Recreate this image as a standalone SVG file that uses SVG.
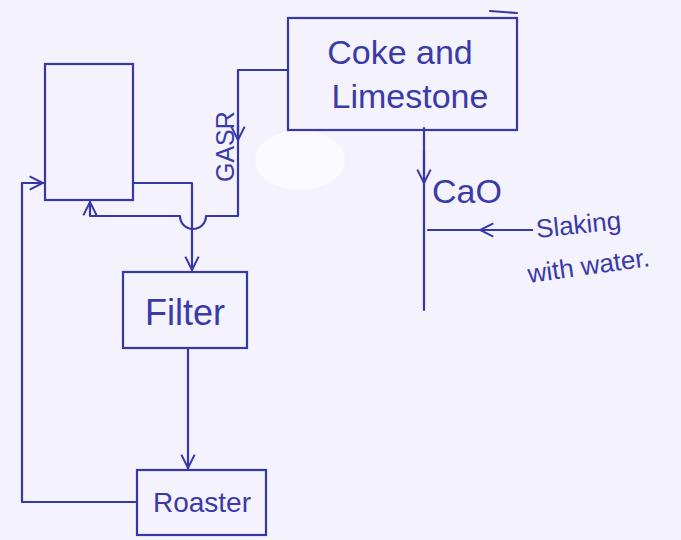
<svg xmlns="http://www.w3.org/2000/svg" width="681" height="540" viewBox="0 0 681 540">
<defs>
<style>
.ln{fill:none;stroke:#3737a8;stroke-width:2.2;stroke-linecap:round;stroke-linejoin:round}
.bx{fill:none;stroke:#3737a8;stroke-width:2.2}
.t{font-family:"Liberation Sans","DejaVu Sans",sans-serif;fill:#3a3aa8}
</style>
<marker id="ah" viewBox="0 0 12 12" refX="11" refY="6" markerWidth="16" markerHeight="16" markerUnits="userSpaceOnUse" orient="auto">
<path d="M1,1 L11,6 L1,11" fill="none" stroke="#3737a8" stroke-width="1.5"/>
</marker>
</defs>
<rect width="681" height="540" fill="#f4f2fc"/>
<ellipse cx="300" cy="160" rx="45" ry="30" fill="#ffffff" opacity="0.5"/>
<g id="connectors">
<path class="ln" d="M288,70 L238,70 L238,216 L206,216 A12,12 0 0 1 180,216 L90,216 L90,202" marker-end="url(#ah)"/>
<path class="ln" d="M238,120 L238,140" marker-end="url(#ah)"/>
<path class="ln" d="M133,183 L192,183 L192,270" marker-end="url(#ah)"/>
<path class="ln" d="M188,348 L188,468" marker-end="url(#ah)"/>
<path class="ln" d="M137,502 L22,502 L22,183 L43,183" marker-end="url(#ah)"/>
<path class="ln" d="M424,128 L424,310"/>
<path class="ln" d="M424,150 L424,183" marker-end="url(#ah)"/>
<path class="ln" d="M532,230 L428,230"/>
<path class="ln" d="M532,230 L480,230" marker-end="url(#ah)"/>
<path class="ln" d="M490,11 L517,13"/>
</g>
<g id="reactor">
<rect class="bx" x="45" y="64" width="88" height="136"/>
</g>
<g id="coke">
<rect class="bx" x="288" y="18" width="229" height="112"/>
<text class="t" x="400" y="64" font-size="34" text-anchor="middle">Coke and</text>
<text class="t" x="410" y="108" font-size="34" text-anchor="middle">Limestone</text>
</g>
<g id="filter">
<rect class="bx" x="123" y="272" width="124" height="76"/>
<text class="t" x="185" y="325" font-size="36" text-anchor="middle">Filter</text>
</g>
<g id="roaster">
<rect class="bx" x="137" y="470" width="129" height="65"/>
<text class="t" x="202" y="512" font-size="28" text-anchor="middle">Roaster</text>
</g>
<g id="labels">
<text class="t" font-size="25" transform="translate(234,182) rotate(-90)">GASR</text>
<text class="t" x="432" y="203" font-size="34">CaO</text>
<text class="t" font-size="26" transform="translate(537,238) rotate(-6)">Slaking</text>
<text class="t" font-size="26" transform="translate(529,283) rotate(-8)">with water.</text>
</g>
</svg>
